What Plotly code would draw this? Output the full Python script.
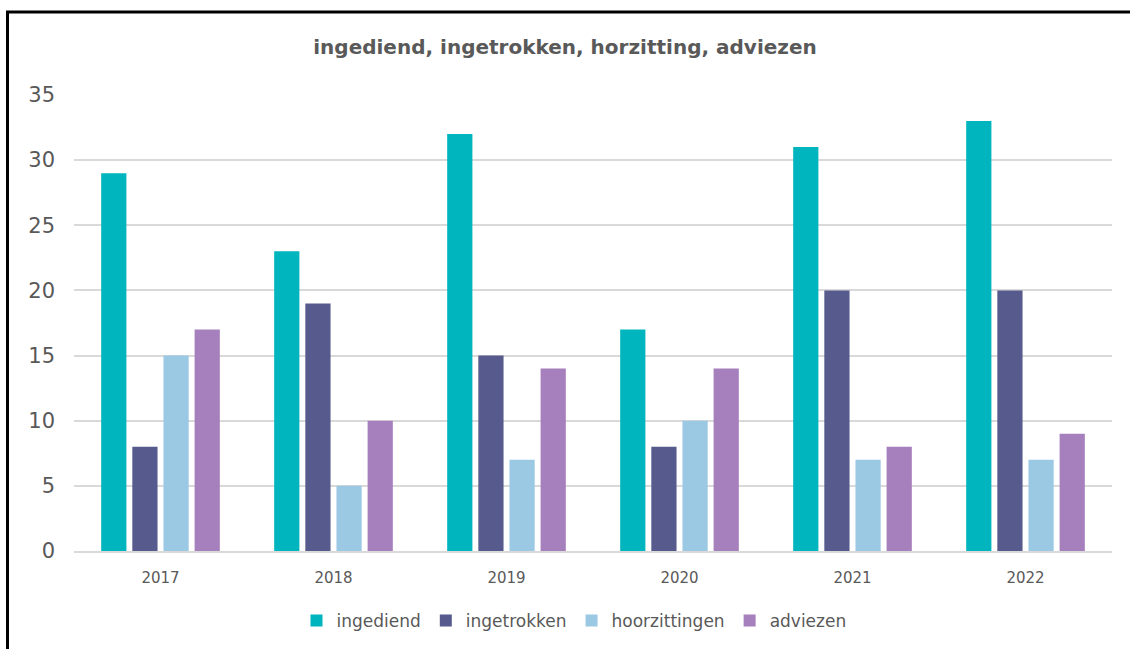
import plotly.graph_objects as go

years = ["2017", "2018", "2019", "2020", "2021", "2022"]
ingediend = [29, 23, 32, 17, 31, 33]
ingetrokken = [8, 19, 15, 8, 20, 20]
hoorzittingen = [15, 5, 7, 10, 7, 7]
adviezen = [17, 10, 14, 14, 8, 9]

series = [
    ("ingediend", ingediend, "#00B5BD"),
    ("ingetrokken", ingetrokken, "#565A8C"),
    ("hoorzittingen", hoorzittingen, "#9BC8E3"),
    ("adviezen", adviezen, "#A67FBD"),
]

W, H = 1130, 649
L, R, T, B = 74, 18, 95, 98
pw, ph = W - L - R, H - T - B

def px_x(px):
    return (px - L) / pw

def px_y(py):
    return (H - B - py) / ph

fig = go.Figure()
for name, vals, col in series:
    fig.add_trace(go.Bar(x=years, y=vals, name=name, marker=dict(color=col, line=dict(width=0))))

font_family = "'DejaVu Sans', sans-serif"
fig.update_layout(
    width=W, height=H,
    margin=dict(l=L, r=R, t=T, b=B, autoexpand=False),
    paper_bgcolor="white", plot_bgcolor="white",
    barmode="group", bargap=0.28, bargroupgap=0.19,
    title=dict(text="<b>ingediend, ingetrokken, horzitting, adviezen</b>",
               x=0.5, xanchor="center", y=1 - 47 / H, yanchor="middle",
               font=dict(family=font_family, size=20, color="#595959")),
    legend=dict(orientation="h", x=px_x(574), xanchor="center", y=px_y(621), yanchor="middle",
                font=dict(family=font_family, size=17, color="#595959"),
                itemwidth=30, tracegroupgap=0),
    xaxis=dict(showgrid=False, showline=True, linecolor="#D9D9D9", linewidth=1.5,
               ticks="", tickfont=dict(family=font_family, size=15, color="#595959"),
               ticklabelstandoff=12),
    yaxis=dict(range=[0, 35], dtick=5, showgrid=True, gridcolor="#D9D9D9", gridwidth=1.5,
               zeroline=False, showline=False, ticks="",
               tickfont=dict(family=font_family, size=21, color="#595959"),
               ticklabelstandoff=18),
    shapes=[
        dict(type="line", xref="paper", yref="paper", x0=px_x(6), x1=px_x(1131), y0=px_y(12), y1=px_y(12),
             line=dict(color="black", width=3)),
        dict(type="line", xref="paper", yref="paper", x0=px_x(7.5), x1=px_x(7.5), y0=px_y(11), y1=px_y(650),
             line=dict(color="black", width=3)),
    ],
)

fig.write_html("out.html", config={"displayModeBar": False},
               post_script="document.body.style.margin='0';document.body.style.padding='0';")
